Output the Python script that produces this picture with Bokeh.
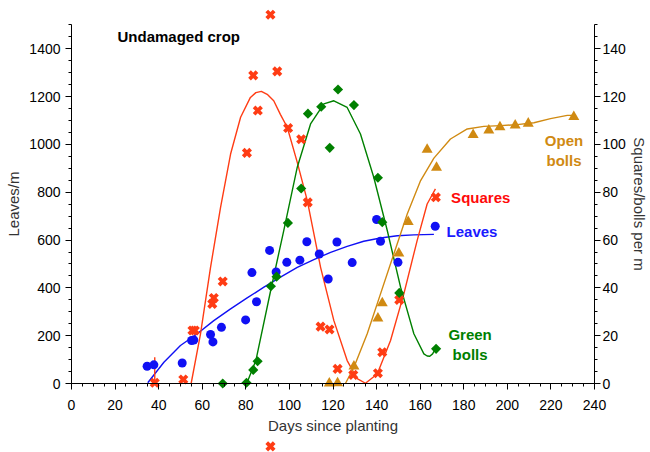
import math
from bokeh.plotting import figure
from bokeh.models import Range1d, LinearAxis, SingleIntervalTicker, Label
from bokeh.embed import file_html
from bokeh.resources import INLINE

# ---------------- data ----------------
leaves_day = [34.7, 37.8, 50.8, 55.1, 56.1, 63.8, 64.9, 68.8, 79.9, 82.8, 84.9, 90.9,
              93.9, 98.8, 104.8, 108.0, 113.7, 117.8, 121.8, 128.8, 140.0, 141.8, 149.8, 166.9]
leaves_val = [72, 78, 86, 180, 182, 205, 174, 235, 266, 464, 342, 557,
              467, 507, 516, 593, 542, 437, 592, 506, 686, 595, 507, 658]

squares_day = [38.2, 51.3, 55.5, 56.6, 64.6, 65.3, 69.4, 80.5, 83.4, 85.5, 91.3, 91.3,
               94.4, 99.4, 105.4, 108.4, 114.3, 118.4, 122.1, 129.3, 140.6, 142.6, 150.4, 167.2]
squares_val = [0.3, 1.7, 22.2, 22.2, 33.3, 35.8, 42.7, 96.5, 128.9, 114.2, 154.3, -26.3,
               130.6, 106.9, 102.2, 75.8, 23.8, 22.6, 6.1, 3.6, 4.3, 13.1, 35.0, 77.9]

green_day = [69.4, 80.3, 83.4, 85.4, 91.5, 94.1, 99.3, 105.4, 108.5, 114.6, 118.5, 122.3,
             129.6, 140.6, 142.6, 150.4, 167.3]
green_val = [0.0, 0.3, 5.7, 9.3, 40.7, 44.7, 67.2, 81.6, 112.9, 115.8, 98.6, 123.0,
             116.5, 86.1, 67.5, 37.9, 14.5]

open_day = [118.3, 122.1, 129.6, 140.6, 142.6, 150.2, 154.5, 163.2, 167.5, 184.3, 191.5,
            196.6, 203.6, 209.6, 230.5]
open_val = [0.1, 0.2, 7.2, 27.3, 33.6, 54.5, 67.6, 97.9, 90.3, 104.0, 105.9,
            107.3, 108.0, 108.8, 111.6]

# fitted curves
leaves_fit_day = [35.0, 42.4, 50.0, 57.7, 65.3, 73.0, 80.6, 88.3, 95.9, 103.6, 111.2, 118.9,
                  126.5, 134.1, 141.8, 149.5, 157.1, 166.3]
leaves_fit_val = [3, 89, 159, 208, 263, 312, 358, 403, 445, 486, 518, 549,
                  574, 595, 609, 618, 622, 624]

squares_stub_day = [38.2, 38.2]
squares_stub_val = [11.0, 0.0]
squares_fit_day = [54.9, 59.2, 63.8, 68.4, 73.0, 77.6, 82.1, 84.6, 87.1, 89.8, 92.8, 95.9, 99.0,
                   103.6, 108.2, 114.3, 120.4, 126.5, 131.1, 134.9, 140.3, 146.4, 152.5,
                   158.6, 163.2, 167.0]
squares_fit_val = [0.0, 20.8, 48.6, 73.7, 96.0, 111.4, 119.7, 121.7, 122.2, 121.0, 118.3, 112.5, 107.2,
                   92.5, 76.5, 48.6, 26.3, 9.6, 2.0, 0.1, 4.0, 18.0, 37.5,
                   59.8, 75.1, 81.4]

green_fit_day = [80.4, 84.6, 91.3, 97.4, 103.6, 109.7, 115.8, 120.4, 126.5, 132.6, 138.7,
                 144.9, 151.0, 157.1, 161.7, 163.2, 164.4, 165.7, 167.0]
green_fit_val = [0.0, 9.6, 38.5, 64.0, 90.5, 108.6, 117.0, 118.3, 115.5, 104.4, 86.3,
                 64.0, 40.3, 20.8, 12.4, 11.5, 11.4, 12.4, 14.5]

open_fit_day = [125.7, 129.6, 135.7, 141.8, 147.9, 154.1, 160.2, 166.3, 173.9, 181.6, 189.2,
                196.9, 204.5, 212.2, 219.8, 227.5, 230.5]
open_fit_val = [0.0, 6.8, 20.8, 37.5, 54.2, 71.0, 84.9, 94.3, 102.3, 106.5, 107.6,
                107.9, 108.3, 109.1, 110.8, 112.2, 112.2]

# ---------------- styling ----------------
BLUE = "#1010f4"
RED = "#ff3c14"
GREEN = "#008000"
ORANGE = "#d08a12"
FONT = "Liberation Sans"

W, H = 650, 452
p = figure(width=W, height=H, output_backend="svg", toolbar_location=None,
           x_range=Range1d(-32.58, 265.69), y_range=Range1d(-288.7, 1602.5),
           x_axis_type=None, y_axis_type=None,
           min_border_left=0, min_border_right=0, min_border_top=0, min_border_bottom=0)
p.extra_y_ranges = {"sb": Range1d(-28.87, 160.25)}
p.outline_line_color = None
p.background_fill_color = "white"
p.border_fill_color = "white"


def style_axis(ax, label_standoff, title_standoff):
    ax.axis_line_color = "black"
    ax.axis_line_width = 1
    ax.major_tick_line_color = "black"
    ax.minor_tick_line_color = "black"
    ax.major_tick_out = 6
    ax.major_tick_in = 0
    ax.minor_tick_out = 3
    ax.minor_tick_in = 0
    ax.major_label_text_font = FONT
    ax.major_label_text_font_size = "14px"
    ax.major_label_text_color = "black"
    ax.major_label_standoff = label_standoff
    ax.axis_label_text_font = FONT
    ax.axis_label_text_font_size = "15px"
    ax.axis_label_text_font_style = "normal"
    ax.axis_label_text_color = "#333333"
    ax.axis_label_standoff = title_standoff


xaxis = LinearAxis(ticker=SingleIntervalTicker(interval=20, num_minor_ticks=4),
                   bounds=(0, 240), fixed_location=0, axis_label="Days since planting")
style_axis(xaxis, 10, 4)
p.add_layout(xaxis, "below")

laxis = LinearAxis(ticker=SingleIntervalTicker(interval=200, num_minor_ticks=4),
                   bounds=(0, 1500), fixed_location=0, axis_label="Leaves/m")
style_axis(laxis, 5, 4)
p.add_layout(laxis, "left")

raxis = LinearAxis(y_range_name="sb", ticker=SingleIntervalTicker(interval=20, num_minor_ticks=4),
                   bounds=(0, 150), fixed_location=240, axis_label="Squares/bolls per m")
style_axis(raxis, 2, 2)
p.add_layout(raxis, "right")

# ---------------- curves ----------------
p.line(leaves_fit_day, leaves_fit_val, line_color=BLUE, line_width=1.4)
p.line(squares_stub_day, squares_stub_val, line_color=RED, line_width=1.4, y_range_name="sb")
p.line(squares_fit_day, squares_fit_val, line_color=RED, line_width=1.4, y_range_name="sb",
       line_join="round")
p.line(green_fit_day, green_fit_val, line_color=GREEN, line_width=1.4, y_range_name="sb",
       line_join="round")
p.line(open_fit_day, open_fit_val, line_color=ORANGE, line_width=1.4, y_range_name="sb",
       line_join="round")

# ---------------- markers ----------------
p.scatter(leaves_day, leaves_val, marker="circle", size=9, fill_color=BLUE, line_color=None)
p.scatter(squares_day, squares_val, marker="x", size=10.5, line_color=RED, line_width=3.8,
          y_range_name="sb")
p.scatter(green_day, green_val, marker="square", angle=math.pi / 4, size=7.2,
          fill_color=GREEN, line_color=None, y_range_name="sb")
p.scatter(open_day, open_val, marker="triangle", size=11, fill_color=ORANGE,
          line_color=None, y_range_name="sb")

# ---------------- text labels ----------------
def add_label(x, y, text, color, rng="default", align="left"):
    p.add_layout(Label(x=x, y=y, text=text, text_color=color, text_font=FONT,
                       text_font_size="15px", text_font_style="bold",
                       text_align=align, text_baseline="middle", y_range_name=rng))

add_label(21.1, 1452, "Undamaged crop", "black")
add_label(174.2, 77.7, "Squares", "#ff0a0a", rng="sb")
add_label(172.1, 637, "Leaves", "#1a1aff")
add_label(182.9, 20.5, "Green", GREEN, rng="sb", align="center")
add_label(182.9, 12.1, "bolls", GREEN, rng="sb", align="center")
add_label(226.0, 101.6, "Open", ORANGE, rng="sb", align="center")
add_label(226.0, 93.5, "bolls", ORANGE, rng="sb", align="center")

open("out.html", "w").write(file_html(p, INLINE))
